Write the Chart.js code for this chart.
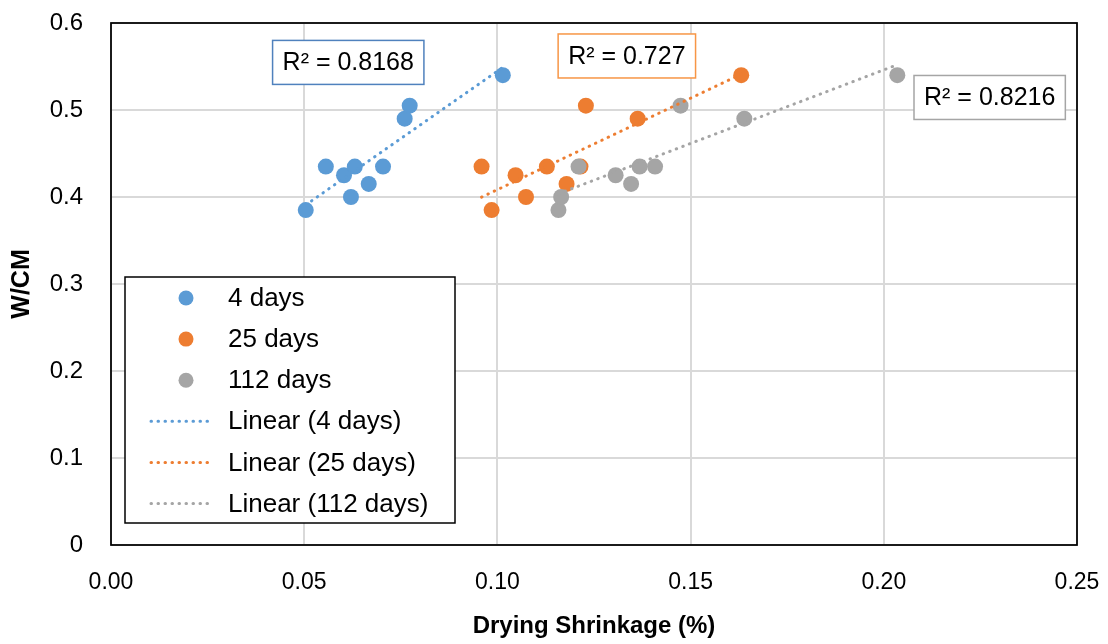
<!DOCTYPE html>
<html>
<head>
<meta charset="utf-8"/>
<script src="https://cdn.jsdelivr.net/npm/chart.js@4.4.0/dist/chart.umd.min.js"></script>
<style>
  body { margin: 0; background: #fff; }
  #wrap { width: 1108px; height: 644px; }
</style>
</head>
<body>
<div id="wrap"><canvas id="c" width="1108" height="644"></canvas></div>
<script>
// W/CM of each mix (same mixes for every age)
var wcRatio = [0.385, 0.40, 0.415, 0.425, 0.435, 0.435, 0.435, 0.49, 0.505, 0.54];
// drying shrinkage (%)
var shrink4   = [0.0504, 0.0621, 0.0667, 0.0603, 0.0556, 0.0631, 0.0704, 0.0760, 0.0773, 0.1014];
var shrink25  = [0.0985, 0.1074, 0.1179, 0.1047, 0.0959, 0.1128, 0.1215, 0.1363, 0.1229, 0.1631];
var shrink112 = [0.1158, 0.1165, 0.1346, 0.1306, 0.1210, 0.1368, 0.1408, 0.1639, 0.1474, 0.2035];

var seriesNames = ['4 days', '25 days', '112 days'];
var r2Labels = ['R² = 0.8168', 'R² = 0.727', 'R² = 0.8216'];
var xTicks = [0, 0.05, 0.10, 0.15, 0.20, 0.25];
var yTicks = [0, 0.1, 0.2, 0.3, 0.4, 0.5, 0.6];

var colors = ['#5B9BD5', '#ED7D31', '#A5A5A5'];
var boxColors = ['#4F81BD', '#F79646', '#A5A5A5'];
var FONT = "'Liberation Sans', Arial, sans-serif";

function points(xs) {
  return xs.map(function(x, i) { return {x: x, y: wcRatio[i]}; });
}

// least squares trend line, drawn from min x to max x like Excel does
function trend(xs) {
  var n = xs.length, sx = 0, sy = 0, sxx = 0, sxy = 0;
  for (var i = 0; i < n; i++) {
    sx += xs[i]; sy += wcRatio[i];
    sxx += xs[i] * xs[i]; sxy += xs[i] * wcRatio[i];
  }
  var b = (n * sxy - sx * sy) / (n * sxx - sx * sx);
  var a = (sy - b * sx) / n;
  var lo = Math.min.apply(null, xs), hi = Math.max.apply(null, xs);
  return [{x: lo, y: a + b * lo}, {x: hi, y: a + b * hi}];
}

var allX = [shrink4, shrink25, shrink112];
var datasets = [];
allX.forEach(function(xs, i) {
  datasets.push({
    label: seriesNames[i],
    data: points(xs),
    backgroundColor: colors[i],
    borderColor: colors[i],
    pointRadius: 8,
    pointHoverRadius: 8,
    pointBorderWidth: 0,
    order: 3 - i
  });
});
allX.forEach(function(xs, i) {
  datasets.push({
    type: 'line',
    label: 'Linear (' + seriesNames[i] + ')',
    data: trend(xs),
    borderColor: colors[i],
    backgroundColor: colors[i],
    borderWidth: 3,
    borderDash: [0.5, 6.5],
    borderCapStyle: 'round',
    pointRadius: 0,
    fill: false,
    order: 0
  });
});

// where the R² text boxes sit (data coordinates of box centre)
var r2Pos = [[0.0614, 0.5547], [0.1335, 0.5621], [0.2274, 0.5144]];

var frameAndNotes = {
  id: 'frameAndNotes',
  afterDatasetsDraw: function(chart) {
    var ctx = chart.ctx, a = chart.chartArea;
    var xs = chart.scales.x, ys = chart.scales.y;
    ctx.save();
    // plot frame
    ctx.strokeStyle = '#000';
    ctx.lineWidth = 1.75;
    ctx.strokeRect(a.left, a.top, a.right - a.left, a.bottom - a.top);

    // R² boxes
    ctx.font = '25px ' + FONT;
    ctx.textBaseline = 'middle';
    ctx.textAlign = 'center';
    r2Labels.forEach(function(t, i) {
      var cx = xs.getPixelForValue(r2Pos[i][0]);
      var cy = ys.getPixelForValue(r2Pos[i][1]);
      var w = ctx.measureText(t).width + 20, h = 44;
      ctx.fillStyle = '#fff';
      ctx.fillRect(cx - w / 2, cy - h / 2, w, h);
      ctx.strokeStyle = boxColors[i];
      ctx.lineWidth = 1.5;
      ctx.strokeRect(cx - w / 2, cy - h / 2, w, h);
      ctx.fillStyle = '#000';
      ctx.fillText(t, cx, cy + 1);
    });

    // legend box
    var lx = 125, ly = 277, lw = 330, lh = 246, row = 41.1;
    ctx.fillStyle = '#fff';
    ctx.fillRect(lx, ly, lw, lh);
    ctx.strokeStyle = '#000';
    ctx.lineWidth = 1.5;
    ctx.strokeRect(lx, ly, lw, lh);
    ctx.font = '26px ' + FONT;
    ctx.textAlign = 'left';
    chart.data.datasets.forEach(function(ds, i) {
      var y = ly + 21 + i * row;
      if (ds.type === 'line') {
        ctx.save();
        ctx.strokeStyle = ds.borderColor;
        ctx.lineWidth = 3;
        ctx.lineCap = 'round';
        ctx.setLineDash([0.5, 6.5]);
        ctx.beginPath();
        ctx.moveTo(151, y);
        ctx.lineTo(214, y);
        ctx.stroke();
        ctx.restore();
      } else {
        ctx.fillStyle = ds.backgroundColor;
        ctx.beginPath();
        ctx.arc(186, y, 7.5, 0, Math.PI * 2);
        ctx.fill();
      }
      ctx.fillStyle = '#000';
      ctx.fillText(ds.label, 228, y + 1);
    });
    ctx.restore();
  }
};

// keep the label overflow out of the layout, the padding below places the plot
function noOverflow(s) {
  s.paddingTop = 0; s.paddingBottom = 0;
  s.paddingLeft = 0; s.paddingRight = 0;
}

new Chart(document.getElementById('c'), {
  type: 'scatter',
  data: { datasets: datasets },
  options: {
    responsive: false,
    animation: false,
    events: [],
    layout: { padding: { top: 23, right: 31, left: 0, bottom: 0 } },
    plugins: { legend: { display: false }, tooltip: { enabled: false } },
    scales: {
      x: {
        type: 'linear',
        min: 0, max: 0.25,
        afterBuildTicks: function(s) { s.ticks = xTicks.map(function(v) { return {value: v}; }); },
        afterFit: function(s) { s.height = 99; noOverflow(s); },
        grid: { color: '#d9d9d9', lineWidth: 2, drawTicks: false },
        border: { display: false },
        ticks: {
          color: '#000',
          padding: 24,
          font: { family: FONT, size: 23 },
          callback: function(v) { return Number(v).toFixed(2); }
        },
        title: {
          display: true,
          text: 'Drying Shrinkage (%)',
          color: '#000',
          font: { family: FONT, size: 24, weight: 'bold' },
          padding: { top: 0, bottom: 3 }
        }
      },
      y: {
        type: 'linear',
        min: 0, max: 0.6,
        afterBuildTicks: function(s) { s.ticks = yTicks.map(function(v) { return {value: v}; }); },
        afterFit: function(s) { s.width = 111; noOverflow(s); },
        grid: { color: '#d9d9d9', lineWidth: 2, drawTicks: false },
        border: { display: false },
        ticks: {
          color: '#000',
          padding: 28,
          font: { family: FONT, size: 24 },
          callback: function(v) { return v === 0 ? '0' : Number(v).toFixed(1); }
        },
        title: {
          display: true,
          text: 'W/CM',
          color: '#000',
          font: { family: FONT, size: 25, weight: 'bold' },
          padding: { top: 7, bottom: 0 }
        }
      }
    }
  },
  plugins: [frameAndNotes]
});
</script>
</body>
</html>
